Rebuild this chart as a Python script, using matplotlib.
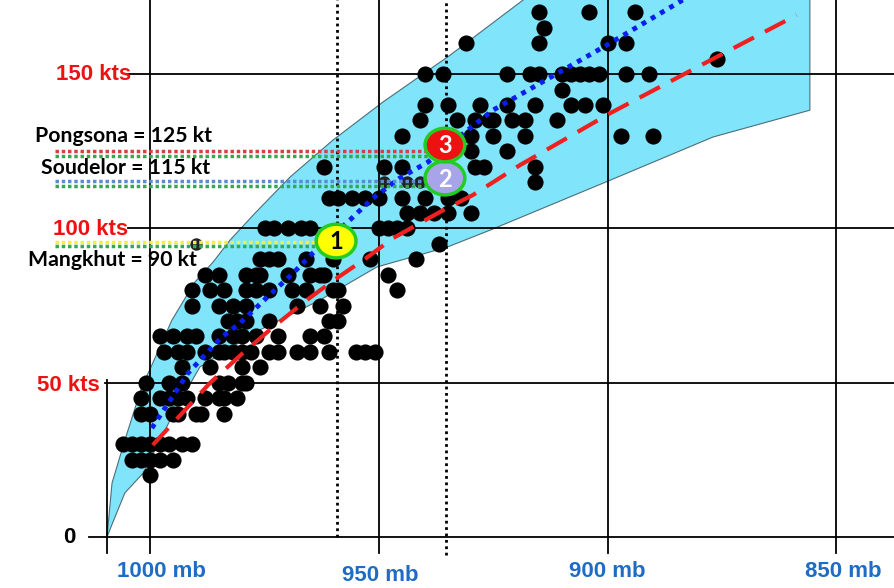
import matplotlib.pyplot as plt
from matplotlib.patches import Polygon, Ellipse

# --- data (pressure in mb, wind in kt) ---

# observed best-track points, one line per wind row
dot_kt = ([20] + [25] * 5 + [30] * 8 + [40] * 7 + [45] * 9 + [50] * 7 + [55] * 4
          + [60] * 17 + [65] * 11 + [70] * 6 + [75] * 7 + [80] * 11 + [85] * 10
          + [90] * 7 + [95] + [100] * 9 + [105] * 5 + [110] * 9 + [115] + [120] * 6
          + [125] * 2 + [130] * 6 + [135] * 8 + [140] * 8 + [145] + [150] * 12
          + [155] + [160] * 4 + [165] + [170] * 3)
dot_mb = [1000,
          1004, 1002, 1000, 998, 995,
          1006, 1004, 1002, 1000, 998, 996, 993, 991,
          1002, 1000, 995, 994, 990, 989, 984,
          1002, 998, 996, 994, 992, 988, 985, 984, 981,
          1001, 996, 993, 985, 983, 980, 979,
          993, 987, 980, 976,
          997, 994, 992, 988, 985, 984, 982, 980, 978, 974, 972, 968, 965, 961, 955, 953, 951,
          998, 995, 992, 990, 985, 982, 980, 977, 972, 965, 962,
          983, 981, 979, 974, 961, 959,
          991, 985, 982, 979, 968, 963, 958,
          991, 987, 984, 979, 977, 974, 969, 966, 960, 959, 946,
          988, 985, 979, 977, 976, 970, 965, 963, 962, 948,
          976, 974, 972, 966, 960, 952, 942,
          937,
          975, 973, 970, 967, 965, 950, 948, 946, 944,
          944, 941, 938, 935, 930,
          961, 959, 956, 953, 950, 945, 940, 935, 932,
          916,
          962, 949, 945, 929, 927, 916,
          930, 922,
          945, 930, 925, 918, 897, 890,
          941, 933, 929, 926, 925, 921, 918, 911,
          940, 935, 928, 922, 916, 908, 905, 901,
          910,
          940, 936, 922, 917, 915, 910, 908, 906, 904, 902, 896, 891,
          876,
          931, 915, 900, 896,
          914,
          915, 904, 894]

# small marked points for the named storms
mark_mb = [990, 949, 944, 941]
mark_kt = [95, 115, 115, 115]

# shaded envelope (upper edge then lower edge back)
band_top_mb = [1009.5, 1008.4, 1005.6, 1001.9, 999.7, 995.3, 990.3, 986.3, 982.6,
               977.1, 969.5, 960.1, 949.2, 934.5, 918.5, 914.0]
band_top_kt = [0, 17.5, 31.4, 48.6, 55.7, 70.3, 82.6, 89.1, 96.2,
               105.0, 116.6, 128.6, 140.9, 156.1, 174.0, 180.0]
band_low_mb = [855.8, 855.8, 877.0, 899.5, 925.8, 935.2, 950.5, 962.9, 976.1,
               989.2, 994.6, 999.0, 1001.6, 1005.6, 1008.9]
band_low_kt = [180.0, 138.3, 129.6, 115.6, 99.4, 93.9, 87.5, 76.8, 67.1,
               55.1, 41.1, 28.2, 20.7, 14.3, 2.3]

# wind-pressure relationship curves
red_mb = [999.5, 987, 979.8, 973.2, 965.8, 960.1, 952.7, 947, 936, 929.5, 919.2, 899.5, 878.3, 858.7]
red_kt = [29.8, 49.9, 59.6, 68, 76.8, 83, 90.5, 96.8, 105.9, 110.8, 120.5, 137.3, 153.9, 169.1]
blue_mb = [999.7, 991.8, 984.4, 980.4, 974.5, 968.8, 964.5, 956.4, 951.6, 945.5, 939.3,
           931.2, 925.1, 900.2, 883.6, 873.0]
blue_kt = [35.3, 53.1, 64.8, 69.3, 77.7, 85.5, 92.0, 102.7, 109.5, 116.3, 121.5,
           131.2, 138.3, 159.4, 174.0, 181.0]

# axis ticks
y_ticks = [0, 50, 100, 150]
y_labels = ["0", "50 kts", "100 kts", "150 kts"]
x_ticks = [1000, 950, 900, 850]
x_labels = ["1000 mb", "950 mb", "900 mb", "850 mb"]
ref_mb = [959.1, 935.3]

# named storms
storm_names = ["Pongsona = 125 kt", "Soudelor = 115 kt", "Mangkhut = 90 kt"]
storm_kt = [125.0, 115.3, 95.6]
storm_end = [938.6, 940.0, 963.4]
storm_col = ["#d84040", "#5b8bd6", "#f0f040"]
badge_num = ["1", "2", "3"]
badge_mb = [959.4, 935.6, 935.6]
badge_kt = [95.9, 116.3, 127.0]
badge_face = ["#ffff00", "#a8a4ea", "#ee1111"]
badge_txt = ["black", "white", "white"]

fig = plt.figure(figsize=(8.94, 5.88), dpi=100)
ax = fig.add_axes([0, 0, 1, 1])
ax.set_xlim(1032.9, 837.4)
ax.set_ylim(-16.5, 174.0)
ax.axis("off")

band = Polygon(list(zip(band_top_mb + band_low_mb, band_top_kt + band_low_kt)),
               closed=True, facecolor="#80e4fa", edgecolor="#4d6e78", lw=0.8, zorder=1)
ax.add_patch(band)

# grid
h_start = [1013.4, 1009.9, 1004.9, 1004.9]
for k, x0 in zip(y_ticks, h_start):
    ax.plot([x0, 837.4], [k, k], color="black", lw=1.3, zorder=2)
for p in x_ticks:
    ax.plot([p, p], [-5.2, 174], color="black", lw=1.3, zorder=2)
ax.plot([1009.5, 1009.5], [-5.2, 50.9], color="black", lw=1.3, zorder=2)
ax.plot([ref_mb[0]] * 2, [0, 174], color="black", lw=2.0, ls=(0, (1, 1.3)), zorder=2)
ax.plot([ref_mb[1]] * 2, [-5.8, 174], color="black", lw=2.0, ls=(0, (1, 1.3)), zorder=2)

ax.scatter(dot_mb, dot_kt, s=135, c="black", linewidths=0, zorder=4)
ax.scatter(mark_mb, mark_kt, s=80, c="#222222", linewidths=0, zorder=4)

ax.plot(red_mb, red_kt, color="#ee2020", lw=3, ls=(0, (5.5, 3)), zorder=5)
ax.plot(blue_mb, blue_kt, color="#0a1ef0", lw=3.5, ls=(0, (1, 1.2)), zorder=5)

# storm guide lines
for k, x1, c in zip(storm_kt, storm_end, storm_col):
    ax.plot([1020.9, x1], [k, k], color=c, lw=2.5, ls=(0, (1, 0.8)), zorder=6)
    ax.plot([1020.9, x1], [k - 1.4, k - 1.4], color="#35a855", lw=2.5, ls=(0, (1, 0.8)), zorder=6)

for n, p, k, fc, tc in zip(badge_num, badge_mb, badge_kt, badge_face, badge_txt):
    ax.add_patch(Ellipse((p, k), 8.7, 10.9, facecolor=fc, edgecolor="#22cc22", lw=2.5, zorder=7))
    ax.text(p, k - 0.3, n, ha="center", va="center", fontsize=17, fontweight="bold",
            family="Lato", color=tc, zorder=8)

# tick labels
lab_kw = dict(fontsize=16, fontweight="bold", family="Liberation Sans")
ax.text(1016.3, 0, y_labels[0], ha="right", va="center", color="black", **lab_kw)
ax.text(1011.0, 49.2, y_labels[1], ha="right", va="center", color="#ee1111", **lab_kw)
ax.text(1004.9, 99.6, y_labels[2], ha="right", va="center", color="#ee1111", **lab_kw)
ax.text(1004.2, 150, y_labels[3], ha="right", va="center", color="#ee1111", **lab_kw)

x_lab_mb = [997.7, 949.8, 900.2, 848.4]
x_lab_kt = [-11.3, -12.3, -11.3, -11.3]
for s, p, k in zip(x_labels, x_lab_mb, x_lab_kt):
    ax.text(p, k, s, ha="center", va="center", color="#1f6cc4", **lab_kw)

name_mb = [1025.3, 1023.9, 1026.8]
name_kt = [129.9, 119.5, 89.7]
for s, p, k in zip(storm_names, name_mb, name_kt):
    ax.text(p, k, s, ha="left", va="center", fontsize=15.3, fontweight="bold",
            family="Lato", color="black", zorder=8)

fig.savefig("out.png", dpi=100)
